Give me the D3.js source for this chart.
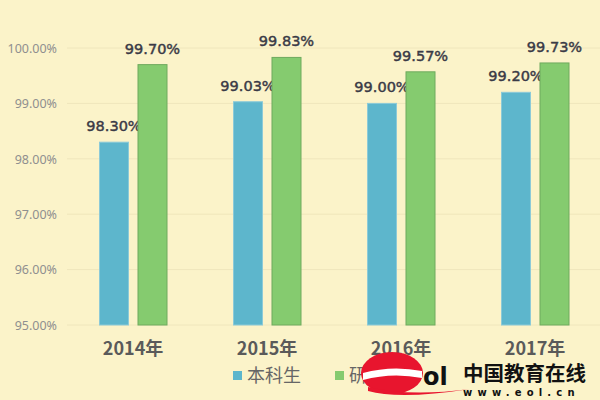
<!DOCTYPE html>
<html><head><meta charset="utf-8">
<script src="https://cdn.jsdelivr.net/npm/d3@7"></script>
<style>html,body{margin:0;padding:0;background:#FBF3C9;}svg{display:block;}</style>
</head><body>
<svg id="c" width="600" height="400"></svg>
<script>
const categories = ["2014年","2015年","2016年","2017年"];
const seriesNames = ["本科生","研究生"];
const undergrad = [98.30, 99.03, 99.00, 99.20];
const graduate = [99.70, 99.83, 99.57, 99.73];
const yTicks = [95, 96, 97, 98, 99, 100];
const colors = ["#5DB6CC", "#85CB6F"];
const strokes = ["#8CCAD8", "#6FAA5E"];

const svg = d3.select("#c");
svg.append("rect").attr("width",600).attr("height",400).attr("fill","#FBF3C9");

const x = d3.scaleBand().domain(categories).range([67, 603]).paddingInner(0).paddingOuter(0);
const y = d3.scaleLinear().domain([95, 100]).range([325, 48]);

// gridlines
svg.append("g").selectAll("line").data(yTicks).join("line")
  .attr("x1", 67).attr("x2", 600)
  .attr("y1", d => y(d)).attr("y2", d => y(d))
  .attr("stroke", "#EFE6BC").attr("stroke-width", 1);

// y axis labels
const yAxis = d3.axisLeft(y).tickValues(yTicks).tickFormat(d => d.toFixed(2) + "%").tickSize(0).tickPadding(0);
const ya = svg.append("g").attr("transform","translate(57,0)").call(yAxis);
ya.select(".domain").remove();
ya.selectAll("text").attr("font-family","'Noto Sans', sans-serif").attr("font-size","12.5px").attr("fill","#8F8F8F").attr("dy","0.35em");

const barW = 30;
const offsets = [-20, 18.5];
const data = [undergrad, graduate];
data.forEach((vals, s) => {
  const g = svg.append("g");
  g.selectAll("rect").data(vals).join("rect")
    .attr("x", (d,i) => x(categories[i]) + x.bandwidth()/2 + offsets[s] - barW/2 + 0.5)
    .attr("y", d => y(d))
    .attr("width", barW - 1)
    .attr("height", d => y(95) - y(d))
    .attr("fill", colors[s]).attr("stroke", strokes[s]).attr("stroke-width", 1);
  g.selectAll("text").data(vals).join("text")
    .attr("x", (d,i) => x(categories[i]) + x.bandwidth()/2 + offsets[s])
    .attr("y", d => y(d) - 11)
    .attr("text-anchor","middle")
    .attr("font-family","'DejaVu Sans', sans-serif").attr("font-size","14.5px")
    .attr("fill","#3A3A46").attr("stroke","#3A3A46").attr("stroke-width",0.45)
    .text(d => d.toFixed(2) + "%");
});

// x axis labels
const xAxis = d3.axisBottom(x).tickSize(0).tickPadding(0);
const xa = svg.append("g").attr("transform","translate(-1,342)").call(xAxis);
xa.select(".domain").remove();
xa.selectAll("text").attr("font-family","'Noto Sans CJK SC', sans-serif").attr("font-size","18px").attr("font-weight","bold").attr("fill","#5A5A5A").attr("dy","0.71em");

// legend
const lx = [233, 335];
seriesNames.forEach((n, i) => {
  svg.append("rect").attr("x", lx[i]).attr("y", 371).attr("width", 9).attr("height", 9).attr("fill", colors[i]);
  svg.append("text").attr("x", lx[i] + 14).attr("y", 382)
    .attr("font-family","'Noto Sans CJK SC', sans-serif").attr("font-size","18px").attr("fill","#666")
    .text(n);
});

// watermark
const wm = svg.append("g");
wm.append("ellipse").attr("cx", 392).attr("cy", 373).attr("rx", 31).attr("ry", 21).attr("fill", "#E8152E");
wm.append("path").attr("d", "M363,373 Q392,365 422,371 L422,378 Q392,372 363,380 Z").attr("fill", "#fff");
wm.append("path").attr("d", "M368,391 Q400,400 470,389 Q410,397 368,387 Z").attr("fill", "#E8152E");
wm.append("text").attr("x", 423).attr("y", 385).attr("font-family","'DejaVu Sans', sans-serif").attr("font-weight","bold").attr("font-size","24px").attr("fill","#111").text("ol");
wm.append("text").attr("x", 463).attr("y", 381).attr("font-family","'Noto Sans CJK SC', sans-serif").attr("font-weight","bold").attr("font-size","20.5px").attr("fill","#111").text("中国教育在线");
wm.append("text").attr("x", 463).attr("y", 396).attr("font-family","'DejaVu Sans', sans-serif").attr("font-weight","bold").attr("font-size","10px").attr("letter-spacing","5.2px").attr("fill","#111").text("www.eol.cn");
</script>
</body></html>
